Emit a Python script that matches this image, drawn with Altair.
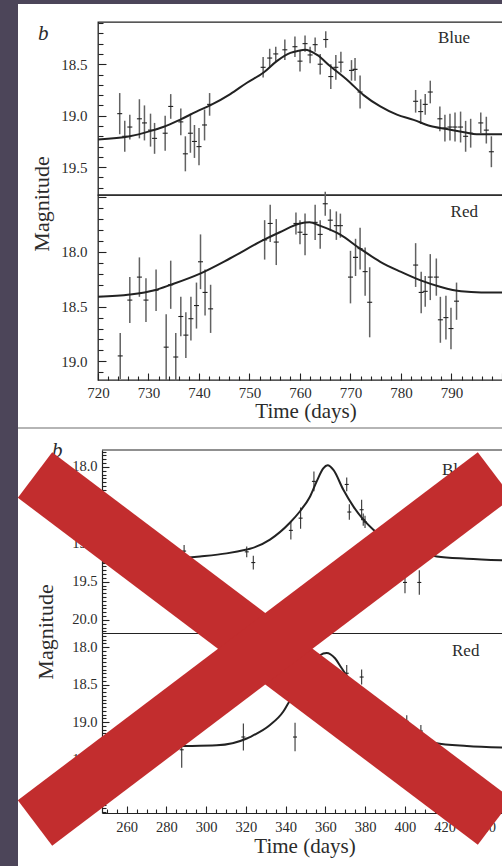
import altair as alt
import pandas as pd

SERIF = "Liberation Serif"
INK = "#222222"
TXT = "#2b2b2b"
BAR1 = "#626262"
XRED = "#c22d2e"
DARK = "#4c4559"

# ---------------- Figure 1 (days 720-800) ----------------
b1_t = [724.3, 725.3, 726.3, 728.2, 729.2, 730.4, 731.2, 733.3, 734.4, 736.4, 737.3, 738.3,
        739.1, 740.0, 741.1, 742.1, 752.7, 754.0, 755.2, 757.0, 759.0, 760.0, 761.0, 762.0,
        763.0, 764.0, 765.1, 766.1, 767.1, 768.1, 770.2, 770.9, 771.9, 782.9, 783.9, 784.8,
        785.8, 787.7, 788.7, 789.7, 790.7, 791.8, 792.8, 793.8, 795.8, 796.9, 797.9]
b1_mag = [18.98, 19.20, 19.11, 19.03, 19.07, 19.14, 19.22, 19.17, 18.91, 19.06, 19.37, 19.17,
          19.25, 19.30, 19.09, 18.89, 18.53, 18.44, 18.40, 18.36, 18.33, 18.47, 18.30, 18.41,
          18.31, 18.50, 18.26, 18.62, 18.53, 18.48, 18.56, 18.55, 18.77, 18.86, 18.96, 18.89,
          18.77, 19.03, 19.12, 19.11, 19.11, 19.11, 19.20, 19.17, 19.07, 19.14, 19.35]
b1_err = [0.20, 0.15, 0.12, 0.19, 0.17, 0.16, 0.15, 0.17, 0.12, 0.13, 0.17, 0.19,
          0.16, 0.18, 0.15, 0.11, 0.10, 0.09, 0.07, 0.10, 0.10, 0.10, 0.08, 0.08,
          0.07, 0.10, 0.08, 0.12, 0.12, 0.10, 0.10, 0.11, 0.16, 0.11, 0.12, 0.10,
          0.11, 0.12, 0.13, 0.13, 0.14, 0.15, 0.15, 0.14, 0.10, 0.13, 0.15]
b1_fit_t = [720.0, 726.3, 730.3, 732.9, 736.2, 739.5, 742.2, 746.2, 749.5, 752.8, 755.4, 758.1,
            759.7, 761.0, 763.4, 766.0, 769.3, 772.6, 775.9, 779.2, 782.5, 785.8, 789.1, 792.5,
            795.0, 800.4]
b1_fit_mag = [19.23, 19.20, 19.15, 19.11, 19.04, 18.96, 18.90, 18.79, 18.68, 18.58, 18.47, 18.39,
              18.37, 18.36, 18.41, 18.52, 18.65, 18.80, 18.91, 18.99, 19.04, 19.10, 19.13, 19.16,
              19.18, 19.18]

r1_t = [724.4, 726.3, 728.2, 729.5, 731.5, 733.5, 734.4, 735.4, 736.4, 737.4, 738.4, 739.5,
        740.3, 741.2, 742.3, 753.0, 754.1, 755.3, 759.2, 760.0, 761.0, 763.0, 764.0, 765.0,
        766.0, 767.2, 768.0, 770.0, 771.0, 771.9, 772.9, 773.8, 782.9, 784.0, 784.8, 785.8,
        787.0, 787.8, 788.9, 789.9, 791.0]
r1_mag = [18.95, 18.44, 18.23, 18.44, 18.35, 18.87, 18.30, 18.96, 18.59, 18.76, 18.61, 18.49,
          18.09, 18.37, 18.52, 17.89, 17.74, 17.91, 17.74, 17.82, 17.84, 17.73, 17.84, 17.56,
          17.71, 17.76, 17.76, 18.23, 18.05, 17.97, 18.18, 18.46, 18.12, 18.37, 18.36, 18.23,
          18.23, 18.62, 18.60, 18.70, 18.45]
r1_err = [0.21, 0.21, 0.18, 0.20, 0.19, 0.30, 0.22, 0.22, 0.18, 0.21, 0.20, 0.21,
          0.25, 0.21, 0.22, 0.18, 0.17, 0.21, 0.10, 0.11, 0.19, 0.16, 0.13, 0.11,
          0.10, 0.13, 0.11, 0.24, 0.17, 0.19, 0.22, 0.32, 0.20, 0.19, 0.14, 0.21,
          0.17, 0.21, 0.20, 0.19, 0.17]
r1_fit_t = [720.0, 726.3, 731.2, 734.4, 740.1, 746.1, 752.8, 756.0, 760.0, 761.9, 763.9, 767.9,
            771.9, 775.9, 779.9, 783.9, 787.9, 791.9, 795.9, 800.4]
r1_fit_mag = [18.41, 18.39, 18.35, 18.30, 18.20, 18.06, 17.89, 17.82, 17.74, 17.73, 17.76, 17.84,
              17.97, 18.09, 18.18, 18.26, 18.32, 18.36, 18.37, 18.37]

# ---------------- Figure 2 (days 250-450) ----------------
b2_t = [288.9, 320.4, 323.7, 342.6, 347.5, 354.2, 370.7, 372.0, 378.2, 379.0, 379.9, 400.0, 407.2]
b2_mag = [19.10, 19.11, 19.25, 18.83, 18.67, 18.19, 18.23, 18.59, 18.56, 18.69, 18.72, 19.51, 19.51]
b2_err = [0.08, 0.07, 0.09, 0.12, 0.14, 0.13, 0.09, 0.10, 0.13, 0.08, 0.08, 0.14, 0.16]
b2_fit_t = [247.6, 288.5, 296.9, 310.3, 320.4, 322.0, 332.1, 342.1, 347.2, 352.2, 355.6, 358.9,
            361.1, 364.0, 369.0, 374.1, 379.1, 384.1, 395.0, 405.0, 416.0, 431.1, 448.8]
b2_fit_mag = [19.24, 19.19, 19.17, 19.13, 19.08, 19.07, 18.95, 18.73, 18.58, 18.39, 18.19, 18.02,
              17.98, 18.04, 18.30, 18.52, 18.69, 18.82, 19.00, 19.10, 19.17, 19.20, 19.22]

r2_t = [287.7, 318.7, 344.7, 370.7, 378.2, 400.9, 408.0]
r2_mag = [19.37, 19.20, 19.20, 18.35, 18.40, 18.99, 19.12]
r2_err = [0.24, 0.18, 0.19, 0.11, 0.10, 0.08, 0.08]
r2_fit_t = [247.6, 288.5, 305.3, 320.4, 322.0, 332.1, 338.8, 341.3, 350.0, 357.2, 360.6, 364.8,
            368.1, 378.0, 390.0, 400.0, 415.1, 431.1, 448.8]
r2_fit_mag = [19.33, 19.32, 19.31, 19.22, 19.20, 19.04, 18.86, 18.75, 18.45, 18.11, 18.08, 18.15,
              18.28, 18.65, 18.98, 19.15, 19.28, 19.32, 19.34]

# ---------------- tick positions and labelled ranges ----------------
f1_x_ticks = [720 + 2 * i for i in range(41)]
f1_x_labels = [720, 790]
b1_y_ticks = [round(18.1 + 0.1 * i, 2) for i in range(17)]
b1_y_labels = [18.5, 19.5]
r1_y_ticks = [round(17.5 + 0.1 * i, 2) for i in range(17)]
r1_y_labels = [18.0, 19.0]
f2_x_ticks = [250 + 5 * i for i in range(40)]
f2_x_labels = [260, 440]
b2_y_ticks = [round(17.8 + 0.05 * i, 2) for i in range(48)]
b2_y_labels = [18.0, 20.0]
r2_y_ticks = [round(17.85 + 0.05 * i, 2) for i in range(48)]
r2_y_labels = [18.0, 20.0]

HALF = "abs(datum.value*2 - round(datum.value*2)) < 0.001"


def pts_df(t, m, e):
    return pd.DataFrame({"t": t, "mag": m,
                         "lo": [a - b for a, b in zip(m, e)],
                         "hi": [a + b for a, b in zip(m, e)]})


def fit_df(t, m):
    return pd.DataFrame({"t": t, "mag": m})


def y_axis(values, labels, size, pad, mj, mn, offset=0, domain=False):
    show = f"{HALF} && datum.value > {labels[0] - 0.01} && datum.value < {labels[1] + 0.01}"
    kw = dict(values=values, title=None, grid=False, domain=domain,
              tickSize={"expr": f"{HALF} ? {mj} : {mn}"}, tickColor=INK, tickWidth=1.1,
              labelExpr=f"({show}) ? format(datum.value, '.1f') : ''",
              labelOverlap=False, labelFlush=False, labelFont=SERIF, labelFontSize=size,
              labelColor=TXT, labelPadding=pad, zindex=0)
    if domain:
        kw.update(domainColor=INK, domainWidth=1.2)
    if offset:
        kw["offset"] = offset
    return alt.Axis(**kw)


def x_axis(values, labels, step, size, pad, mj, mn, domain=False):
    show = f"datum.value % {step} == 0 && datum.value >= {labels[0]} && datum.value <= {labels[1]}"
    kw = dict(values=values, title=None, grid=False, domain=domain,
              tickSize={"expr": f"datum.value % {step} == 0 ? {mj} : {mn}"},
              tickColor=INK, tickWidth=1.1,
              labelExpr=f"({show}) ? format(datum.value, 'd') : ''",
              labelOverlap=False, labelFlush=False, labelFont=SERIF, labelFontSize=size,
              labelColor=TXT, labelPadding=pad, zindex=0)
    if domain:
        kw.update(domainColor=INK, domainWidth=1.2)
    return alt.Axis(**kw)


def frame_axis():
    return alt.Axis(title=None, grid=False, ticks=False, labels=False, domain=True,
                    domainColor=INK, domainWidth=1.2, zindex=0)


def text_layer(s, x, y, size, align="center", angle=0, style="normal", baseline="alphabetic"):
    kw = dict(align=align, baseline=baseline, font=SERIF, fontSize=size,
              fontStyle=style, color=TXT)
    if angle:
        kw["angle"] = angle
    return alt.Chart(pd.DataFrame({"s": [s]})).mark_text(**kw).encode(
        x=alt.value(x), y=alt.value(y), text="s:N")


def panel(pts, fit, xsc, ysc, xax, yax, w, h, bar_color, bar_w, cross, extras):
    X = alt.X("t:Q", scale=xsc, axis=xax)
    Y = alt.Y("mag:Q", scale=ysc, axis=yax)
    Ylo = alt.Y("lo:Q", scale=ysc, axis=yax)
    bars = alt.Chart(pts).mark_rule(color=bar_color, strokeWidth=bar_w).encode(
        x=X, y=Ylo, y2="hi:Q")
    crosses = alt.Chart(pts).mark_tick(orient="horizontal", size=cross, thickness=1.1,
                                       color=INK, opacity=1).encode(x=X, y=Y)
    line = alt.Chart(fit).mark_line(color=INK, strokeWidth=2,
                                    interpolate="monotone").encode(x=X, y=Y)
    return alt.layer(bars, crosses, line, *extras).properties(width=w, height=h)


# ---------------- Figure 1 panels ----------------
xs1 = alt.Scale(domain=[720, 800.4], nice=False, zero=False)
frame1 = alt.ViewBackground(stroke=INK, strokeWidth=1.3)

blue1 = panel(
    pts_df(b1_t, b1_mag, b1_err), fit_df(b1_fit_t, b1_fit_mag), xs1,
    alt.Scale(domain=[18.09, 19.77], reverse=True, nice=False, zero=False),
    None, y_axis(b1_y_ticks, b1_y_labels, 15, 19, -8, -5), 406, 173, BAR1, 1.5, 5,
    [text_layer("b", -60, 18, 21, align="left", style="italic"),
     text_layer("Blue", 372, 21, 17, align="right"),
     text_layer("Magnitude", -56, 182, 22, angle=270, baseline="middle")],
).properties(view=frame1)

red1 = panel(
    pts_df(r1_t, r1_mag, r1_err), fit_df(r1_fit_t, r1_fit_mag), xs1,
    alt.Scale(domain=[17.48, 19.17], reverse=True, nice=False, zero=False),
    x_axis(f1_x_ticks, f1_x_labels, 10, 15, 12, -7, -4),
    y_axis(r1_y_ticks, r1_y_labels, 15, 19, -8, -5),
    406, 185, BAR1, 1.5, 5,
    [text_layer("Red", 380, 22, 17, align="right"),
     text_layer("Time (days)", 208, 223, 21)],
).properties(view=frame1)

spacer = alt.Chart(pd.DataFrame({"s": [""]})).mark_text().encode(
    x=alt.value(0), y=alt.value(0), text="s:N").properties(width=404, height=70)

# ---------------- Figure 2 panels ----------------
xs2 = alt.Scale(domain=[247.6, 448.8], range=[4, 404], nice=False, zero=False)

blue2 = panel(
    pts_df(b2_t, b2_mag, b2_err), fit_df(b2_fit_t, b2_fit_mag), xs2,
    alt.Scale(domain=[17.78, 20.17], reverse=True, nice=False, zero=False),
    frame_axis(), y_axis(b2_y_ticks, b2_y_labels, 14.5, 12, -7, -4, offset=-4, domain=True),
    404, 183, "#333333", 1.1, 4,
    [alt.Chart(pd.DataFrame({"s": [""]})).mark_rule(color=INK, strokeWidth=1.2).encode(
        x=alt.value(4), x2=alt.value(404), y=alt.value(0)),
     text_layer("b", -46, 7, 21, align="left", style="italic"),
     text_layer("Blue", 344, 25, 17, align="left"),
     text_layer("Magnitude", -52, 182, 22, angle=270, baseline="middle")],
)

one = pd.DataFrame({"s": [""]})
decor = [
    # red cross over the second figure
    alt.Chart(one).mark_rule(color=XRED, strokeWidth=57, strokeCap="butt").encode(
        x=alt.value(-63), y=alt.value(-158), x2=alt.value(397), y2=alt.value(189)),
    alt.Chart(one).mark_rule(color=XRED, strokeWidth=57, strokeCap="butt").encode(
        x=alt.value(-63), y=alt.value(190), x2=alt.value(397), y2=alt.value(-158)),
    # slide background strips and separator
    alt.Chart(one).mark_rule(color="#9c9c9c", strokeWidth=1.5).encode(
        x=alt.value(-80), x2=alt.value(404), y=alt.value(-205)),
    alt.Chart(one).mark_rect(color=DARK).encode(
        x=alt.value(-98), x2=alt.value(-80), y=alt.value(-633), y2=alt.value(233)),
    alt.Chart(one).mark_rect(color=DARK).encode(
        x=alt.value(-98), x2=alt.value(404), y=alt.value(-633), y2=alt.value(-629)),
]

red2 = panel(
    pts_df(r2_t, r2_mag, r2_err), fit_df(r2_fit_t, r2_fit_mag), xs2,
    alt.Scale(domain=[17.813, 20.213], reverse=True, nice=False, zero=False),
    x_axis(f2_x_ticks, f2_x_labels, 20, 14.5, 14, -7, -4, domain=True),
    y_axis(r2_y_ticks, r2_y_labels, 14.5, 12, -7, -4, offset=-4, domain=True),
    404, 180, "#333333", 1.1, 4,
    [text_layer("Red", 354, 23, 17, align="left"),
     text_layer("Time (days)", 207, 220, 21)] + decor,
)

chart = alt.vconcat(blue1, red1, spacer, blue2, red2, spacing=0, bounds="flush").properties(
    padding={"left": 98, "top": 22, "right": 404, "bottom": 844},
    autosize=alt.AutoSizeParams(type="none"),
    background="white",
).configure_view(stroke="transparent")

chart.save("out.html", embed_options={"renderer": "svg", "actions": False})
